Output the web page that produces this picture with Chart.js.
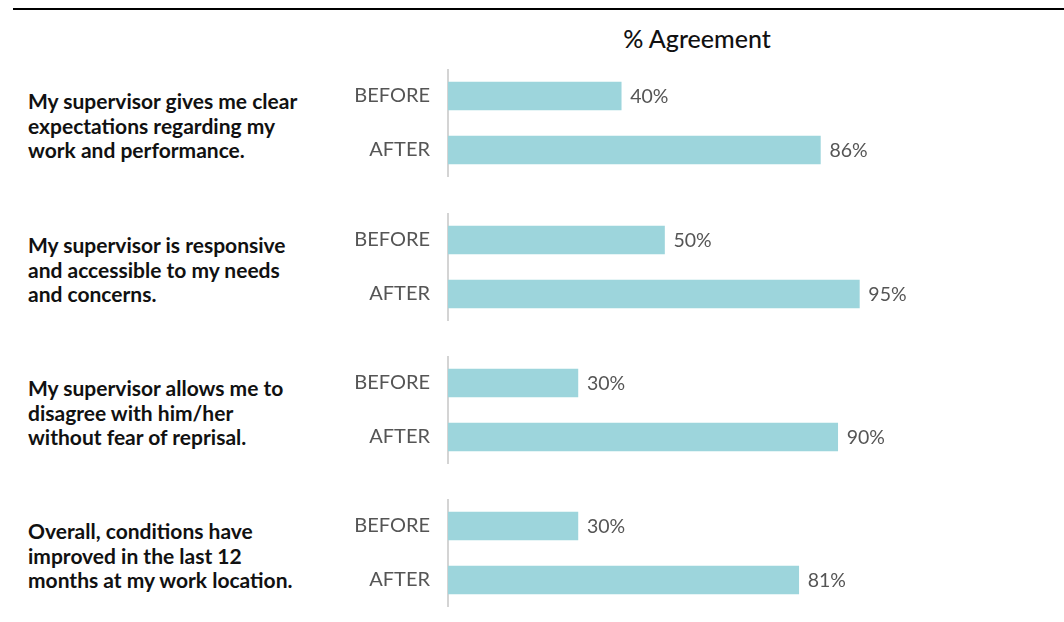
<!DOCTYPE html>
<html>
<head>
<meta charset="utf-8">
<script src="https://cdn.jsdelivr.net/npm/chart.js@4.4.0/dist/chart.umd.min.js"></script>
<style>
    body { margin: 0; background: #fff; width: 1064px; height: 622px; position: relative; overflow: hidden; font-family: Lato, "Open Sans", sans-serif; }
    #topLine { position: absolute; left: 13px; right: 0; top: 8px; height: 2px; background: #000; }
    #title { position: absolute; left: 547px; width: 300px; top: 24px; text-align: center; font-size: 25px; font-weight: 500; line-height: 29px; color: #111; }
    .question { position: absolute; left: 28px; width: 320px; font-size: 21px; font-weight: 700; line-height: 24.5px; color: #111; }
    .group { position: absolute; left: 340px; width: 600px; height: 108px; }
    .group canvas { display: block; }
</style>
</head>
<body>
<div id="topLine"></div>
<div id="title">% Agreement</div>
<div id="app"></div>
<script>
const questions = [
    'My supervisor gives me clear<br>expectations regarding my<br>work and performance.',
    'My supervisor is responsive<br>and accessible to my needs<br>and concerns.',
    'My supervisor allows me to<br>disagree with him/her<br>without fear of reprisal.',
    'Overall, conditions have<br>improved in the last 12<br>months at my work location.'
];
const periods = ['BEFORE', 'AFTER'];
const beforeValues = [40, 50, 30, 30];
const afterValues = [86, 95, 90, 81];

const groupTops = [69, 213, 356, 499];

// 在柱子右侧写百分比
const valueLabels = {
    id: 'valueLabels',
    afterDatasetsDraw(chart) {
        const ctx = chart.ctx;
        ctx.save();
        ctx.font = '19.5px Lato';
        ctx.fillStyle = '#555';
        ctx.textBaseline = 'middle';
        ctx.textAlign = 'left';
        chart.getDatasetMeta(0).data.forEach((bar, i) => {
            ctx.fillText(chart.data.datasets[0].data[i] + '%', bar.x + 9, bar.y + 1);
        });
        ctx.restore();
    }
};

const app = document.getElementById('app');
questions.forEach((q, i) => {
    const text = document.createElement('div');
    text.className = 'question';
    text.style.top = (groupTops[i] + 27 + 5 - 12) + 'px';
    text.innerHTML = q;
    app.appendChild(text);

    const box = document.createElement('div');
    box.className = 'group';
    box.style.top = groupTops[i] + 'px';
    const canvas = document.createElement('canvas');
    canvas.width = 600;
    canvas.height = 108;
    box.appendChild(canvas);
    app.appendChild(box);

    new Chart(canvas, {
        type: 'bar',
        data: {
            labels: periods,
            datasets: [{
                data: [beforeValues[i], afterValues[i]],
                backgroundColor: '#9dd5dc',
                barThickness: 28
            }]
        },
        options: {
            indexAxis: 'y',
            responsive: false,
            animation: false,
            layout: { autoPadding: false, padding: { left: 0, right: 59, top: 0, bottom: 0 } },
            plugins: { legend: { display: false }, tooltip: { enabled: false } },
            scales: {
                x: { display: false, min: 0, max: 100 },
                y: {
                    // 标签的上下留白会挤压柱子区域，这里清零
                    afterFit(scale) {
                        scale.width = 108;
                        scale.paddingTop = 0;
                        scale.paddingBottom = 0;
                    },
                    grid: { display: false, drawTicks: false },
                    border: { display: true, color: '#d4d4d4', width: 2 },
                    ticks: { padding: 18, color: '#555', font: { family: 'Lato', size: 20 } }
                }
            }
        },
        plugins: [valueLabels]
    });
});
</script>
</body>
</html>
